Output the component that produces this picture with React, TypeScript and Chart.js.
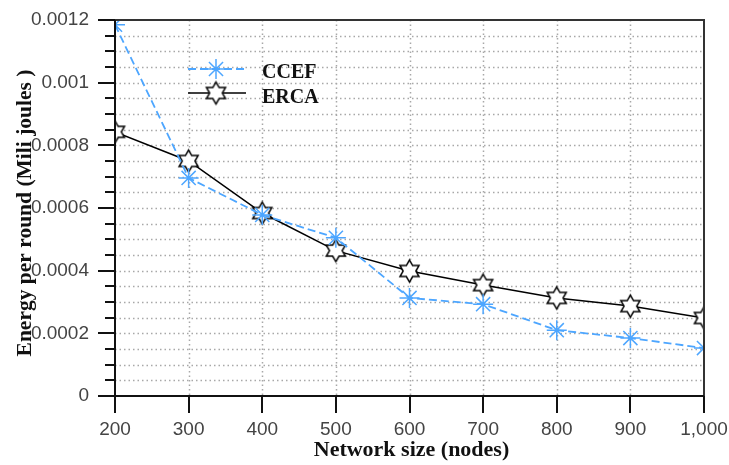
import React, { useEffect, useRef } from 'react';
import { Chart, registerables } from 'chart.js';

Chart.register(...registerables);

// ---- Data ----
const networkSizes = [200, 300, 400, 500, 600, 700, 800, 900, 1000];
const ccefEnergy = [0.001185, 0.000696, 0.000578, 0.000505, 0.000313, 0.000293, 0.00021, 0.000185, 0.000153];
const ercaEnergy = [0.000843, 0.00075, 0.000584, 0.000464, 0.000399, 0.000354, 0.000313, 0.000287, 0.000249];
const seriesNames = ['CCEF', 'ERCA'];
const xTitle = 'Network size (nodes)';
const yTitle = 'Energy per round (Mili joules )';
const yMax = 0.0012;
const yMinorStep = 0.00005;
const yMajorStep = 0.0002;

const CCEF_COLOR = '#4da6ff';
const ERCA_COLOR = '#000000';

function makeHexagram(R: number, lw: number): HTMLCanvasElement {
  const size = Math.ceil(2 * R + lw * 2 + 2);
  const c = document.createElement('canvas');
  c.width = size;
  c.height = size;
  const ctx = c.getContext('2d')!;
  const cx = size / 2;
  const cy = size / 2;
  const r = R / Math.sqrt(3);
  ctx.beginPath();
  for (let i = 0; i < 12; i++) {
    const ang = -Math.PI / 2 + (i * Math.PI) / 6;
    const rad = i % 2 === 0 ? R : r;
    const px = cx + rad * Math.cos(ang);
    const py = cy + rad * Math.sin(ang);
    if (i === 0) ctx.moveTo(px, py);
    else ctx.lineTo(px, py);
  }
  ctx.closePath();
  ctx.fillStyle = '#ffffff';
  ctx.fill();
  ctx.lineWidth = lw;
  ctx.strokeStyle = ERCA_COLOR;
  ctx.stroke();
  return c;
}

function drawAsterisk(ctx: CanvasRenderingContext2D, x: number, y: number, r: number) {
  ctx.save();
  ctx.strokeStyle = CCEF_COLOR;
  ctx.lineWidth = 1.5;
  ctx.setLineDash([]);
  ctx.beginPath();
  for (let i = 0; i < 4; i++) {
    const a = (i * Math.PI) / 4;
    ctx.moveTo(x - r * Math.cos(a), y - r * Math.sin(a));
    ctx.lineTo(x + r * Math.cos(a), y + r * Math.sin(a));
  }
  ctx.stroke();
  ctx.restore();
}

const hexImg = typeof document !== 'undefined' ? makeHexagram(11, 1.5) : (null as any);

const decorPlugin = {
  id: 'decor',
  beforeDatasetsDraw(chart: any) {
    const { ctx, chartArea } = chart;
    const { left, right, top, bottom } = chartArea;
    const xs = chart.scales.x;
    const ys = chart.scales.y;
    ctx.save();
    ctx.strokeStyle = '#a8a8a8';
    ctx.lineWidth = 1.5;
    ctx.setLineDash([1.5, 3]);
    const n = Math.round(yMax / yMinorStep);
    for (let i = 1; i < n; i++) {
      const py = Math.round(ys.getPixelForValue(i * yMinorStep)) + 0.5;
      ctx.beginPath();
      ctx.moveTo(left, py);
      ctx.lineTo(right, py);
      ctx.stroke();
    }
    for (let i = 1; i < networkSizes.length - 1; i++) {
      const px = Math.round(xs.getPixelForValue(networkSizes[i])) + 0.5;
      ctx.beginPath();
      ctx.moveTo(px, top);
      ctx.lineTo(px, bottom);
      ctx.stroke();
    }
    ctx.restore();
  },
  afterDatasetsDraw(chart: any) {
    const { ctx, chartArea } = chart;
    const { left, right, top, bottom } = chartArea;
    const xs = chart.scales.x;
    const ys = chart.scales.y;
    ctx.save();
    ctx.setLineDash([]);
    ctx.strokeStyle = '#333333';
    ctx.lineWidth = 2;
    ctx.strokeRect(left, top, right - left, bottom - top);
    ctx.strokeStyle = '#111111';
    ctx.beginPath();
    ctx.moveTo(left, top);
    ctx.lineTo(left, bottom);
    ctx.lineTo(right, bottom);
    ctx.stroke();
    const n = Math.round(yMax / yMinorStep);
    const perMajor = Math.round(yMajorStep / yMinorStep);
    for (let i = 0; i <= n; i++) {
      const py = Math.round(ys.getPixelForValue(i * yMinorStep));
      const len = i % perMajor === 0 ? 17 : 10;
      ctx.beginPath();
      ctx.moveTo(left - len, py);
      ctx.lineTo(left, py);
      ctx.stroke();
    }
    for (let i = 0; i < networkSizes.length; i++) {
      const px = Math.round(xs.getPixelForValue(networkSizes[i]));
      ctx.beginPath();
      ctx.moveTo(px, bottom);
      ctx.lineTo(px, bottom + 17);
      ctx.stroke();
    }
    // legend
    ctx.lineWidth = 1.8;
    ctx.strokeStyle = CCEF_COLOR;
    ctx.setLineDash([8, 4]);
    ctx.beginPath();
    ctx.moveTo(188, 69);
    ctx.lineTo(246, 69);
    ctx.stroke();
    ctx.setLineDash([]);
    drawAsterisk(ctx, 216, 69, 10);
    ctx.strokeStyle = ERCA_COLOR;
    ctx.lineWidth = 1.5;
    ctx.beginPath();
    ctx.moveTo(188, 93);
    ctx.lineTo(246, 93);
    ctx.stroke();
    ctx.drawImage(hexImg, 216 - hexImg.width / 2, 93 - hexImg.height / 2);
    ctx.fillStyle = '#111111';
    ctx.font = 'bold 20px "Liberation Serif", serif';
    ctx.textAlign = 'left';
    ctx.textBaseline = 'alphabetic';
    ctx.fillText(seriesNames[0], 262, 78);
    ctx.fillText(seriesNames[1], 262, 103);
    // axis titles
    ctx.font = 'bold 22px "Liberation Serif", serif';
    ctx.textAlign = 'center';
    ctx.fillText(xTitle, (left + right) / 2 + 2, 456);
    ctx.save();
    ctx.translate(25, (top + bottom) / 2 + 5);
    ctx.rotate(-Math.PI / 2);
    ctx.textBaseline = 'middle';
    ctx.font = 'bold 21.5px "Liberation Serif", serif';
    ctx.fillText(yTitle, 0, 0);
    ctx.restore();
    ctx.restore();
  },
};

function zeroPadding(s: any) {
  s.paddingTop = 0;
  s.paddingBottom = 0;
  s.paddingLeft = 0;
  s.paddingRight = 0;
}

export default function App() {
  const canvasRef = useRef<HTMLCanvasElement | null>(null);

  useEffect(() => {
    const canvas = canvasRef.current;
    if (!canvas) return;
    const chart = new Chart(canvas, {
      type: 'line',
      data: {
        datasets: [
          {
            label: seriesNames[0],
            data: networkSizes.map((x, i) => ({ x, y: ccefEnergy[i] })),
            borderColor: CCEF_COLOR,
            backgroundColor: CCEF_COLOR,
            borderWidth: 1.8,
            borderDash: [8, 4],
            pointStyle: 'star',
            pointRadius: 10,
            pointBorderWidth: 1.5,
            pointBorderColor: CCEF_COLOR,
            tension: 0,
            clip: 0,
          },
          {
            label: seriesNames[1],
            data: networkSizes.map((x, i) => ({ x, y: ercaEnergy[i] })),
            borderColor: ERCA_COLOR,
            backgroundColor: '#ffffff',
            borderWidth: 1.5,
            pointStyle: hexImg,
            pointRadius: 11,
            tension: 0,
            clip: 0,
          },
        ],
      },
      options: {
        animation: false,
        responsive: false,
        maintainAspectRatio: false,
        events: [],
        layout: { padding: { left: 0, right: 25, top: 20, bottom: 0 } },
        plugins: {
          legend: { display: false },
          tooltip: { enabled: false },
          title: { display: false },
        },
        scales: {
          x: {
            type: 'linear',
            min: networkSizes[0],
            max: networkSizes[networkSizes.length - 1],
            grid: { display: false, drawTicks: false },
            border: { display: false },
            ticks: {
              stepSize: 100,
              autoSkip: false,
              maxRotation: 0,
              padding: 22,
              color: '#444444',
              font: { family: '"Liberation Sans", Arial, sans-serif', size: 19 },
              callback: (v: any) => Number(v).toLocaleString('en-US'),
            },
            afterFit: (s: any) => {
              s.height = 69;
              zeroPadding(s);
            },
          },
          y: {
            type: 'linear',
            min: 0,
            max: yMax,
            grid: { display: false, drawTicks: false },
            border: { display: false },
            ticks: {
              stepSize: yMinorStep,
              autoSkip: false,
              padding: 26,
              color: '#444444',
              font: { family: '"Liberation Sans", Arial, sans-serif', size: 19 },
              callback: (v: any) => {
                const k = Math.round(Number(v) / yMinorStep);
                if (k % Math.round(yMajorStep / yMinorStep) !== 0) return '';
                return String(Number(Number(v).toFixed(4)));
              },
            },
            afterFit: (s: any) => {
              s.width = 115;
              zeroPadding(s);
            },
          },
        },
      },
      plugins: [decorPlugin],
    } as any);
    return () => chart.destroy();
  }, []);

  return (
    <div style={{ position: 'fixed', left: 0, top: 0, width: 729, height: 465, background: '#ffffff' }}>
      <canvas ref={canvasRef} width={729} height={465} style={{ display: 'block' }} />
    </div>
  );
}
